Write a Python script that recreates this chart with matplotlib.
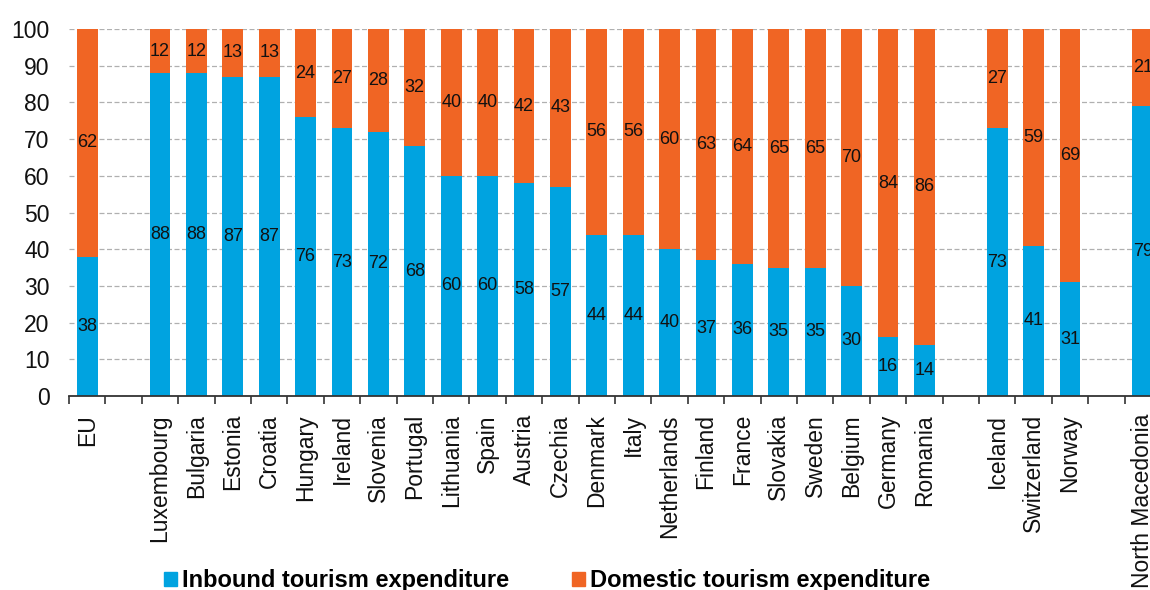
import matplotlib
matplotlib.use("Agg")
import matplotlib.pyplot as plt
import numpy as np
from matplotlib.patches import Rectangle
from matplotlib.ticker import FixedLocator

plt.rcParams['font.family'] = ['Liberation Sans', 'DejaVu Sans']

categories = ["EU", "", "Luxembourg", "Bulgaria", "Estonia", "Croatia", "Hungary", "Ireland",
              "Slovenia", "Portugal", "Lithuania", "Spain", "Austria", "Czechia", "Denmark",
              "Italy", "Netherlands", "Finland", "France", "Slovakia", "Sweden", "Belgium",
              "Germany", "Romania", "", "Iceland", "Switzerland", "Norway", "", "North Macedonia"]
inbound = [38, None, 88, 88, 87, 87, 76, 73, 72, 68, 60, 60, 58, 57, 44, 44, 40, 37, 36, 35,
           35, 30, 16, 14, None, 73, 41, 31, None, 79]
domestic = [62, None, 12, 12, 13, 13, 24, 27, 28, 32, 40, 40, 42, 43, 56, 56, 60, 63, 64, 65,
            65, 70, 84, 86, None, 27, 59, 69, None, 21]
legend_labels = ["Inbound tourism expenditure", "Domestic tourism expenditure"]

BLUE = "#00A3E0"
ORANGE = "#F06524"

W, H = 1150, 590
fig = plt.figure(figsize=(W / 100, H / 100), dpi=100)
left, right, bottom, top = 69, 69 + 30 * 36.4, 396, 29
ax = fig.add_axes([left / W, (H - bottom) / H, (right - left) / W, (bottom - top) / H])

n = len(categories)
x = np.arange(n)
bw = 0.57
for i in range(n):
    if inbound[i] is None:
        continue
    ax.bar(x[i], inbound[i], width=bw, color=BLUE, zorder=3)
    ax.bar(x[i], domestic[i], bottom=inbound[i], width=bw, color=ORANGE, zorder=3)
    ax.text(x[i], inbound[i] / 2, str(inbound[i]), ha='center', va='center',
            fontsize=13, color='#111111', zorder=4)
    ax.text(x[i], inbound[i] + domestic[i] / 2, str(domestic[i]), ha='center', va='center',
            fontsize=13, color='#111111', zorder=4)

ax.set_xlim(-0.5, n - 0.5)
ax.set_ylim(0, 100)
ax.set_yticks(np.arange(0, 101, 10))
ax.tick_params(axis='y', length=0, pad=14, labelsize=16.5, colors='#111111')
ax.yaxis.grid(True, linestyle=(0, (4, 2)), color='#B0B0B0', linewidth=0.9, zorder=0)

ax.set_xticks(x)
ax.set_xticklabels(categories, rotation=90, fontsize=16.5, color='#111111')
ax.tick_params(axis='x', which='major', length=0, pad=13)
ax.xaxis.set_minor_locator(FixedLocator(np.arange(-0.5, n, 1.0)))
ax.tick_params(axis='x', which='minor', length=6, width=1.2, color='#333333', direction='out')

for s in ['top', 'right', 'left']:
    ax.spines[s].set_visible(False)
ax.spines['bottom'].set_color('#333333')
ax.spines['bottom'].set_linewidth(1.3)
ax.spines['bottom'].set_zorder(5)

handles = [Rectangle((0, 0), 1, 1, color=BLUE), Rectangle((0, 0), 1, 1, color=ORANGE)]
fig.legend(handles, legend_labels, loc='center left', bbox_to_anchor=(152 / W, (H - 581) / H),
           ncol=2, frameon=False, borderpad=0, handlelength=0.55, handleheight=0.55,
           handletextpad=0.2, columnspacing=2.7,
           prop={'size': 17, 'weight': 'bold'})

fig.savefig("out.png", dpi=100)
